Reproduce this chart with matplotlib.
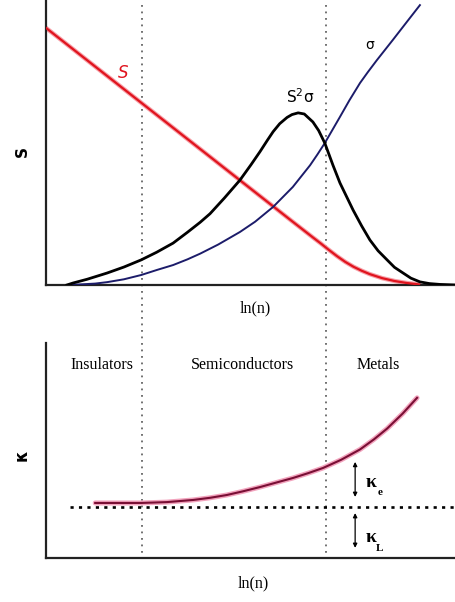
import matplotlib
matplotlib.use("Agg")
import matplotlib.pyplot as plt

# ---- data (x = ln(n), arbitrary units) ----
s_x = [0.0, 1.0, 2.0, 3.0, 4.0, 5.0, 6.0, 6.5, 6.7, 6.9, 7.1, 7.3, 7.5, 7.7,
       7.9, 8.2, 8.5, 8.8, 9.1]
s_y = [9.02, 7.89, 6.76, 5.63, 4.50, 3.37, 2.24, 1.68, 1.46, 1.23, 1.01, 0.81,
       0.64, 0.50, 0.38, 0.24, 0.14, 0.07, 0.02]

pf_x = [0.51, 0.66, 1.0, 1.49, 1.9, 2.32, 2.7, 3.10, 3.45, 3.76, 4.0, 4.35,
        4.73, 5.0, 5.22, 5.4, 5.54, 5.7, 5.88, 6.0, 6.15, 6.3, 6.51, 6.65,
        6.80, 7.0, 7.17, 7.49, 7.7, 7.90, 8.1, 8.32, 8.5, 8.71, 8.9, 9.12,
        9.35, 9.61, 10.0]
pf_y = [0.0, 0.07, 0.20, 0.42, 0.63, 0.88, 1.15, 1.47, 1.85, 2.20, 2.50, 3.05,
        3.68, 4.22, 4.68, 5.08, 5.38, 5.66, 5.88, 5.98, 6.04, 6.00, 5.72, 5.42,
        4.98, 4.20, 3.58, 2.63, 2.07, 1.58, 1.20, 0.88, 0.62, 0.42, 0.24, 0.11,
        0.05, 0.02, 0.0]

sig_x = [0.51, 0.83, 1.2, 1.49, 1.9, 2.32, 2.71, 3.10, 3.45, 3.76, 4.2, 4.73,
         5.1, 5.54, 6.02, 6.44, 6.62, 6.80, 7.17, 7.4, 7.66, 7.85, 8.07, 8.46,
         8.8, 9.12]
sig_y = [0.0, 0.02, 0.05, 0.10, 0.20, 0.35, 0.53, 0.70, 0.90, 1.10, 1.42, 1.86,
         2.22, 2.74, 3.44, 4.20, 4.58, 4.98, 5.90, 6.48, 7.09, 7.47, 7.89, 8.60,
         9.23, 9.82]

kap_x = [1.20, 1.8, 2.32, 2.95, 3.59, 4.0, 4.41, 4.8, 5.22, 5.6, 6.02, 6.4,
         6.76, 7.2, 7.66, 8.0, 8.32, 8.7, 9.05]
kap_y = [2.56, 2.56, 2.56, 2.60, 2.70, 2.80, 2.93, 3.10, 3.30, 3.50, 3.72, 3.95,
         4.19, 4.57, 5.05, 5.52, 6.02, 6.72, 7.45]

kappa_lattice = 2.37
kappa_lattice_start = 0.59
boundaries = [2.33, 6.82]
regions = ["Insulators", "Semiconductors", "Metals"]
region_x = [1.37, 4.80, 8.10]

serif = "Liberation Serif"

fig = plt.figure(figsize=(4.56, 6.02), dpi=100)
ax1 = fig.add_axes([46 / 456, 1 - 285 / 602, 410 / 456, 285 / 602])
ax2 = fig.add_axes([46 / 456, 1 - 558 / 602, 410 / 456, 215 / 602])

for ax in (ax1, ax2):
    ax.set_xlim(0, 10)
    ax.set_ylim(0, 10)
    ax.set_xticks([])
    ax.set_yticks([])
    for side in ("top", "right"):
        ax.spines[side].set_visible(False)
    for side in ("left", "bottom"):
        ax.spines[side].set_linewidth(1.6)
        ax.spines[side].set_color("#222222")
    ax.patch.set_alpha(0)

# ---- upper panel: S, sigma and power factor ----
ax1.plot(s_x, s_y, color="#f7a0a8", lw=3.2, solid_capstyle="round", zorder=2)
ax1.plot(s_x, s_y, color="#e0141e", lw=1.6, zorder=3)
ax1.plot(sig_x, sig_y, color="#1c1c6a", lw=1.4, zorder=3)
ax1.plot(pf_x, pf_y, color="black", lw=2.0, zorder=4)

ax1.text(1.88, 7.44, "S", color="#e0141e", fontsize=12, ha="center", va="center",
         style="italic")
ax1.text(7.90, 8.42, "σ", color="black", fontsize=10, ha="center", va="center")
ax1.text(6.2, 6.6, "S$^2$σ", color="black", fontsize=11, ha="center", va="center")

# regime boundaries spanning both panels
for b in boundaries:
    ax1.plot([b, b], [9.82, -9.58], color="#666666", lw=1.3, ls=(0, (1, 2.6)),
             clip_on=False, zorder=1)

ax1.text(0.51, -0.081, "ln(n)", transform=ax1.transAxes, ha="center", va="center",
         fontsize=11.5, family=serif)
ax1.text(-0.0585, 0.467, "S", transform=ax1.transAxes, ha="center", va="center",
         fontsize=11, rotation=90, fontweight="bold")

# ---- lower panel: thermal conductivity ----
ax2.plot([kappa_lattice_start, 10], [kappa_lattice, kappa_lattice], color="black",
         lw=1.9, ls=(0, (1.2, 2.0)), clip_on=False, zorder=3)
ax2.plot(kap_x, kap_y, color="#f2a3bd", lw=3.6, solid_capstyle="round", zorder=2)
ax2.plot(kap_x, kap_y, color="#7a0f35", lw=1.5, zorder=4)

for name, xc in zip(regions, region_x):
    ax2.text(xc, 8.98, name, ha="center", va="center", fontsize=11.5, family=serif)

arrow_x = 7.54
ax2.annotate("", xy=(arrow_x, 2.84), xytext=(arrow_x, 4.47),
             arrowprops=dict(arrowstyle="<|-|>", color="black", lw=0.9,
                             mutation_scale=6, shrinkA=0, shrinkB=0))
ax2.annotate("", xy=(arrow_x, 0.47), xytext=(arrow_x, 2.09),
             arrowprops=dict(arrowstyle="<|-|>", color="black", lw=0.9,
                             mutation_scale=6, shrinkA=0, shrinkB=0))

# kappa_e and kappa_L labels: upright kappa with a lowered subscript
for yk, sub in ((3.53, "e"), (0.95, "L")):
    ax2.text(7.92, yk, "κ", ha="center", va="center", fontsize=14, family=serif,
             fontweight="bold")
    ax2.text(8.14, yk - 0.5, sub, ha="center", va="center", fontsize=8,
             family=serif, fontweight="bold")

ax2.text(0.505, -0.116, "ln(n)", transform=ax2.transAxes, ha="center", va="center",
         fontsize=11.5, family=serif)
ax2.text(-0.0585, 0.479, "κ", transform=ax2.transAxes, ha="center", va="center",
         fontsize=12, rotation=90, fontweight="bold")

fig.savefig("out.png", dpi=100)
